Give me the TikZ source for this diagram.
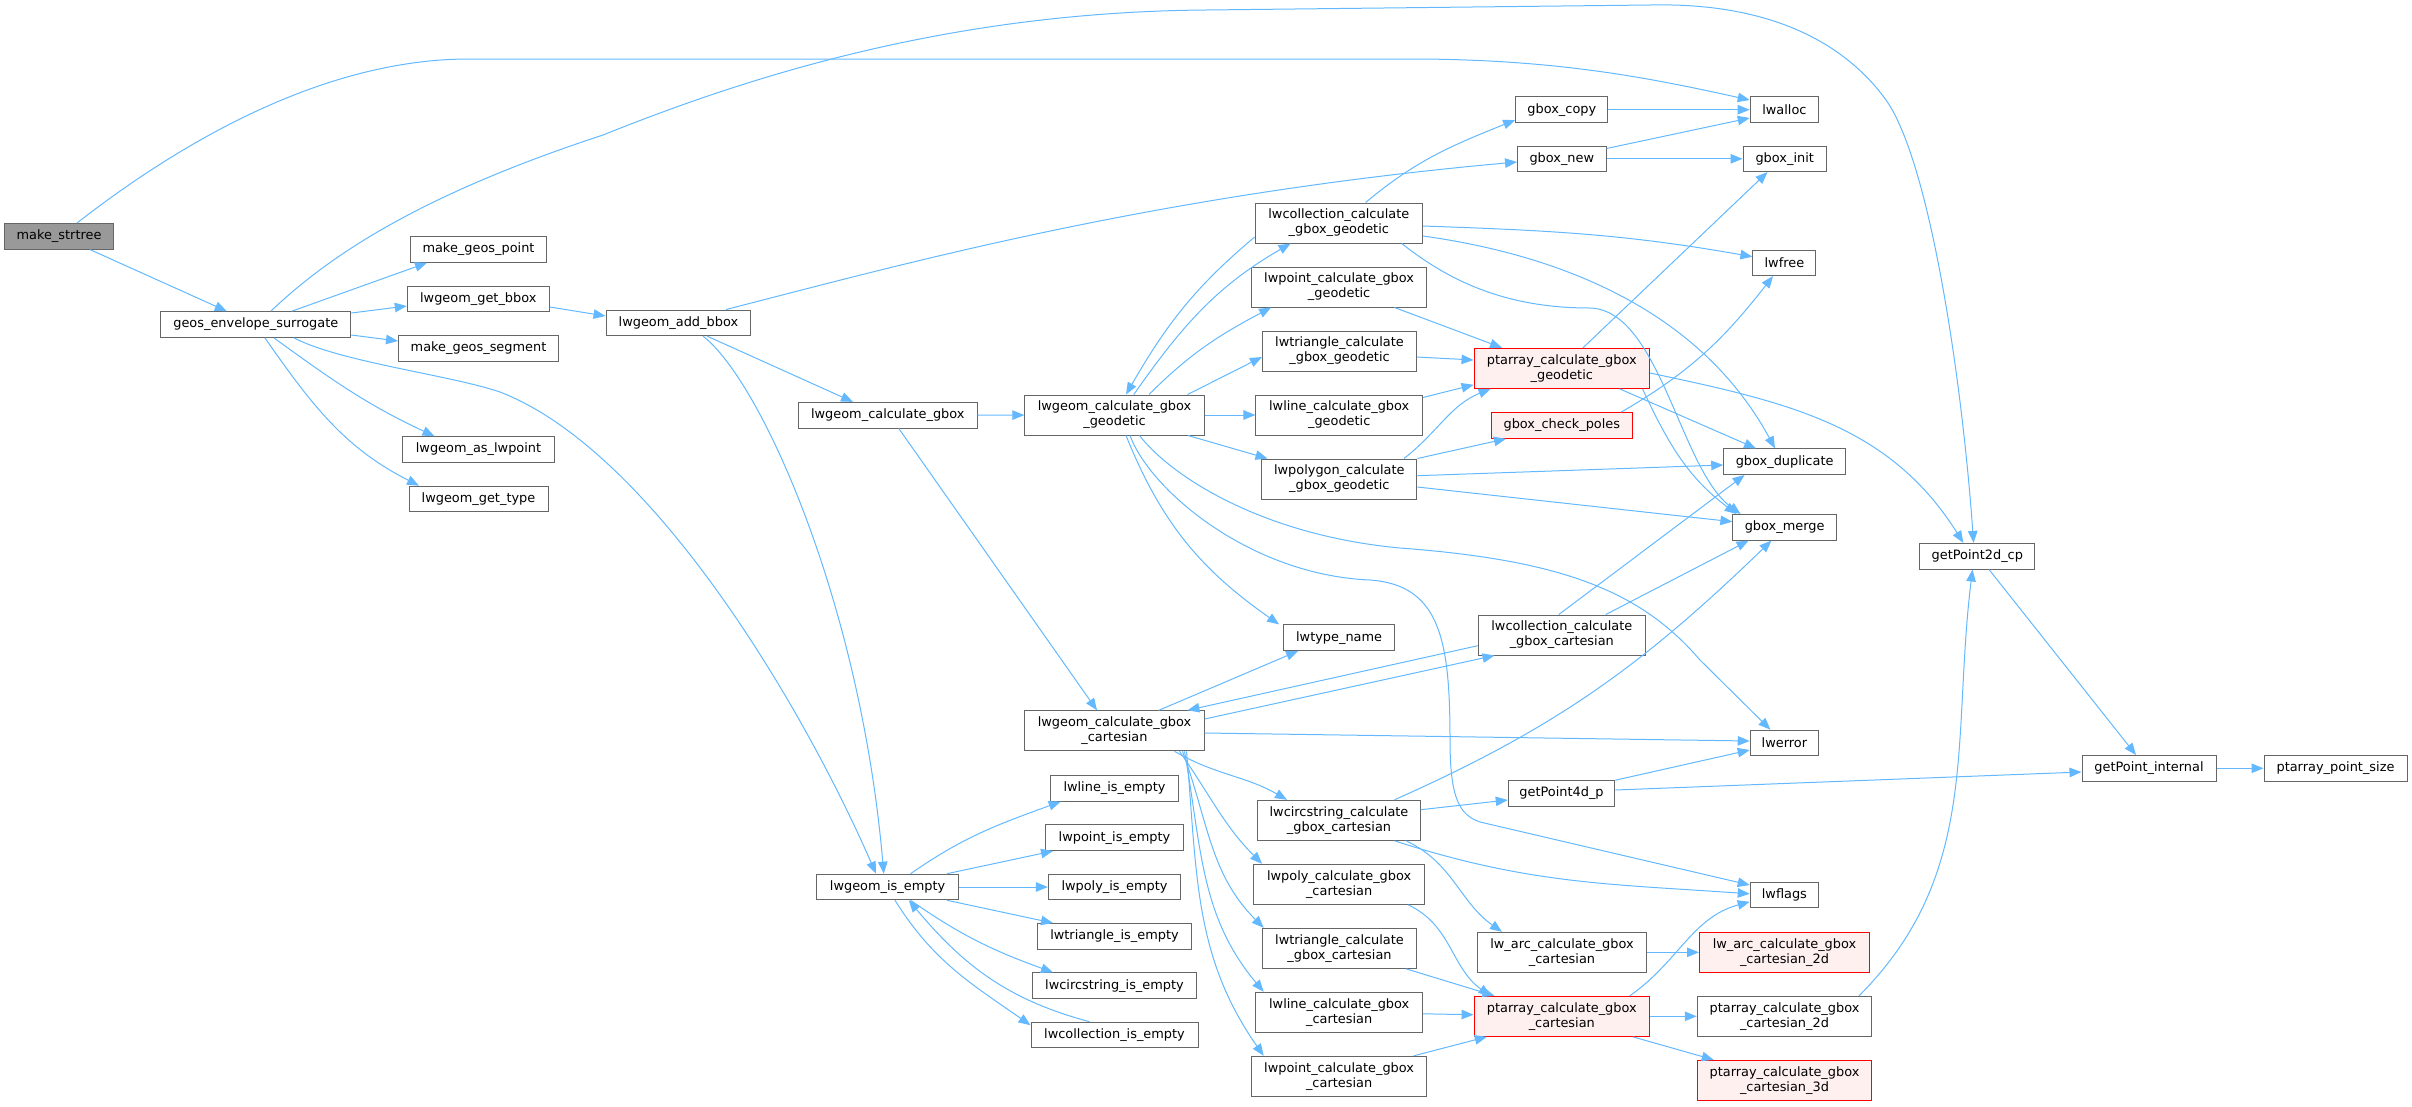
\documentclass[tikz,border=0pt]{standalone}
\usepackage{fontspec}
\setmainfont{DejaVu Sans}
\usetikzlibrary{arrows.meta}
\definecolor{edgeblue}{RGB}{99,184,255}
\definecolor{boxgrey}{RGB}{102,102,102}
\definecolor{rootgrey}{RGB}{153,153,153}
\definecolor{hotfill}{RGB}{255,240,240}
\tikzset{
  fn/.style={
    draw=boxgrey,
    fill=white,
    line width=1pt,
    rectangle,
    inner xsep=3pt,
    inner ysep=0pt,
    minimum height=25.6pt,
    align=center,
    font=\fontsize{12.9pt}{15pt}\selectfont
  },
  fn2/.style={fn, minimum height=40pt},
  root/.style={fn, fill=rootgrey},
  hot/.style={draw=red, fill=hotfill},
  call/.style={
    draw=edgeblue,
    line width=1pt,
    -{Triangle[length=12pt,width=9.5pt]}
  }
}
\begin{document}
\begin{tikzpicture}[x=1pt, y=1pt]
  \useasboundingbox (0,0) rectangle (2412,-1106);

  \node[root, minimum width=109pt] (strtree) at (59,-236.3) {make\_strtree};
  \node[fn, minimum width=190pt] (envsur) at (255.8,-324.5) {geos\_envelope\_surrogate};
  \node[fn, minimum width=136pt] (gpoint) at (478.5,-249.5) {make\_geos\_point};
  \node[fn, minimum width=142pt] (getbbox) at (478.3,-298.8) {lwgeom\_get\_bbox};
  \node[fn, minimum width=160pt] (gseg) at (478.5,-348.2) {make\_geos\_segment};
  \node[fn, minimum width=151.5pt] (aslwpt) at (478.5,-449.5) {lwgeom\_as\_lwpoint};
  \node[fn, minimum width=139pt] (gettype) at (478.5,-499) {lwgeom\_get\_type};
  \node[fn, minimum width=144.7pt] (addbbox) at (678.4,-322.8) {lwgeom\_add\_bbox};
  \node[fn, minimum width=178.8pt] (calcgbox) at (887.8,-415.2) {lwgeom\_calculate\_gbox};
  \node[fn, minimum width=141.6pt] (isempty) at (887.6,-887) {lwgeom\_is\_empty};
  \node[fn2, minimum width=179.3pt] (geod) at (1114.5,-415) {lwgeom\_calculate\_gbox\\\_geodetic};
  \node[fn2, minimum width=179.3pt] (cart) at (1114.5,-730.8) {lwgeom\_calculate\_gbox\\\_cartesian};

  \node[fn, minimum width=128.5pt] (lineempty) at (1114.5,-788.3) {lwline\_is\_empty};
  \node[fn, minimum width=137.7pt] (ptempty) at (1114.5,-837.7) {lwpoint\_is\_empty};
  \node[fn, minimum width=132.3pt] (polyempty) at (1114.5,-887) {lwpoly\_is\_empty};
  \node[fn, minimum width=154.6pt] (triempty) at (1114.5,-936.3) {lwtriangle\_is\_empty};
  \node[fn, minimum width=163.9pt] (circempty) at (1114.5,-985.7) {lwcircstring\_is\_empty};
  \node[fn, minimum width=167pt] (collempty) at (1114.5,-1035) {lwcollection\_is\_empty};

  \node[fn2, minimum width=167.3pt] (collgeod) at (1338.8,-223) {lwcollection\_calculate\\\_gbox\_geodetic};
  \node[fn2, minimum width=175.4pt] (ptgeod) at (1339.1,-287) {lwpoint\_calculate\_gbox\\\_geodetic};
  \node[fn2, minimum width=154pt] (trigeod) at (1339.5,-351) {lwtriangle\_calculate\\\_gbox\_geodetic};
  \node[fn2, minimum width=166.5pt] (linegeod) at (1339.2,-415) {lwline\_calculate\_gbox\\\_geodetic};
  \node[fn2, minimum width=155pt] (polygeod) at (1339.3,-479) {lwpolygon\_calculate\\\_gbox\_geodetic};
  \node[fn, minimum width=110.8pt] (typename) at (1339.1,-637.7) {lwtype\_name};
  \node[fn2, minimum width=162.3pt] (circcart) at (1339,-820.3) {lwcircstring\_calculate\\\_gbox\_cartesian};
  \node[fn2, minimum width=170.8pt] (polycart) at (1339.1,-884.3) {lwpoly\_calculate\_gbox\\\_cartesian};
  \node[fn2, minimum width=154pt] (tricart) at (1339.5,-948.3) {lwtriangle\_calculate\\\_gbox\_cartesian};
  \node[fn2, minimum width=166.5pt] (linecart) at (1339.2,-1012.3) {lwline\_calculate\_gbox\\\_cartesian};
  \node[fn2, minimum width=175.4pt] (ptcart) at (1339.1,-1076.3) {lwpoint\_calculate\_gbox\\\_cartesian};

  \node[fn, minimum width=92.3pt] (gcopy) at (1561.8,-109.7) {gbox\_copy};
  \node[fn, minimum width=88.5pt] (gnew) at (1561.8,-158.8) {gbox\_new};
  \node[fn2, hot, minimum width=175.5pt] (ptarrgeod) at (1561.8,-368.3) {ptarray\_calculate\_gbox\\\_geodetic};
  \node[fn, hot, minimum width=141.5pt] (poles) at (1561.8,-425.5) {gbox\_check\_poles};
  \node[fn2, minimum width=167pt] (collcart) at (1561.8,-635) {lwcollection\_calculate\\\_gbox\_cartesian};
  \node[fn, minimum width=106.5pt] (pt4d) at (1561.5,-793.5) {getPoint4d\_p};
  \node[fn2, minimum width=169.6pt] (arccart) at (1562,-952.3) {lw\_arc\_calculate\_gbox\\\_cartesian};
  \node[fn2, hot, minimum width=175.5pt] (ptarrcart) at (1561.8,-1016.3) {ptarray\_calculate\_gbox\\\_cartesian};

  \node[fn, minimum width=68.4pt] (lwalloc) at (1784.4,-109.7) {lwalloc};
  \node[fn, minimum width=83.3pt] (gboxinit) at (1784.7,-158.8) {gbox\_init};
  \node[fn, minimum width=63pt] (lwfree) at (1784.4,-262.8) {lwfree};
  \node[fn, minimum width=121.8pt] (gdup) at (1784.6,-461.7) {gbox\_duplicate};
  \node[fn, minimum width=103.4pt] (gmerge) at (1784.6,-527.3) {gbox\_merge};
  \node[fn, minimum width=68.4pt] (lwerror) at (1784.4,-743) {lwerror};
  \node[fn, minimum width=68.4pt] (lwflags) at (1784.4,-894.8) {lwflags};
  \node[fn2, hot, minimum width=170pt] (arc2d) at (1784.5,-952.3) {lw\_arc\_calculate\_gbox\\\_cartesian\_2d};
  \node[fn2, minimum width=174.5pt] (ptarr2d) at (1784.5,-1016.3) {ptarray\_calculate\_gbox\\\_cartesian\_2d};
  \node[fn2, hot, minimum width=174.5pt] (ptarr3d) at (1784.5,-1080.3) {ptarray\_calculate\_gbox\\\_cartesian\_3d};

  \node[fn, minimum width=115pt] (gp2d) at (1977.3,-556.2) {getPoint2d\_cp};
  \node[fn, minimum width=134pt] (gpint) at (2149,-768.3) {getPoint\_internal};
  \node[fn, minimum width=143pt] (ptsize) at (2335.5,-768.3) {ptarray\_point\_size};

  \draw[call] ([xshift=31pt]strtree.south) -- ([xshift=-29pt]envsur.north);
  \draw[call] ([xshift=18pt]strtree.north) .. controls (190,-135) and (330,-59) .. (469,-59)
    -- (1420,-59) .. controls (1560,-60) and (1650,-78) .. ([yshift=9.7pt]lwalloc.west);
  \draw[call] ([xshift=15pt]envsur.north) .. controls (330,-255) and (420,-195) .. (603,-135)
    .. controls (750,-76) and (950,-12) .. (1206,-10) -- (1650,-5)
    .. controls (1780,-2) and (1850,-50) .. (1886,-100)
    .. controls (1930,-162) and (1962,-380) .. ([xshift=-3.7pt]gp2d.north);
  \draw[call] ([xshift=36pt]envsur.north) -- ([xshift=-51.5pt]gpoint.south);
  \draw[call] ([yshift=11.5pt]envsur.east) -- ([yshift=-7.2pt]getbbox.west);
  \draw[call] ([yshift=-10.5pt]envsur.east) -- ([yshift=7.2pt]gseg.west);
  \draw[call] ([xshift=18pt]envsur.south) to[out=-36,in=155] ([xshift=-44pt]aslwpt.north);
  \draw[call] ([xshift=9pt]envsur.south) to[out=-55,in=153] ([xshift=-59.5pt]gettype.north);
  \draw[call] ([xshift=38pt]envsur.south) .. controls (340,-362) and (450,-375) .. (500,-392)
    .. controls (650,-450) and (800,-700) .. ([xshift=-11.6pt]isempty.north);
  \draw[call] ([yshift=-8.2pt]getbbox.east) -- ([yshift=6.8pt]addbbox.west);

  \draw[call] ([xshift=47.6pt]addbbox.north) .. controls (900,-265) and (1150,-195) .. ([yshift=-3.2pt]gnew.west);
  \draw[call] ([xshift=28.6pt]addbbox.south) -- ([xshift=-34.8pt]calcgbox.north);
  \draw[call] ([xshift=24.6pt]addbbox.south) .. controls (760,-380) and (860,-600) .. ([xshift=-3.8pt]isempty.north);
  \draw[call] (calcgbox) -- (geod);
  \draw[call] ([xshift=11pt]calcgbox.south) -- ([xshift=-17.5pt]cart.north);

  \draw[call] ([xshift=19.3pt]geod.north) to[out=55,in=-150] ([xshift=-48.2pt]collgeod.south);
  \draw[call] ([yshift=-14pt]collgeod.west) to[out=-140,in=60] ([xshift=11.5pt]geod.north);
  \draw[call] ([xshift=34.5pt]geod.north) to[out=45,in=-152] ([xshift=-68pt]ptgeod.south);
  \draw[call] ([xshift=73pt]geod.north) -- ([yshift=-6pt]trigeod.west);
  \draw[call] (geod) -- (linegeod);
  \draw[call] ([xshift=73.5pt]geod.south) -- ([xshift=-71.8pt]polygeod.north);
  \draw[call] ([xshift=11.5pt]geod.south) to[out=-68,in=145] ([xshift=-60pt]typename.north);
  \draw[call] ([xshift=15.5pt]geod.south) .. controls (1150,-490) and (1250,-575) .. (1370,-580)
    .. controls (1440,-585) and (1450,-640) .. (1450,-740)
    .. controls (1450,-800) and (1460,-815) .. (1480,-822) -- ([yshift=9.8pt]lwflags.west);
  \draw[call] ([xshift=25pt]geod.south) .. controls (1170,-475) and (1260,-535) .. (1400,-548)
    .. controls (1560,-560) and (1640,-590) .. (1700,-660) -- ([xshift=-14pt]lwerror.north);

  \draw[call] ([xshift=26.8pt]collgeod.north) to[out=40,in=-158] ([yshift=-10.3pt]gcopy.west);
  \draw[call] ([yshift=-3pt]collgeod.east) to[out=-2,in=170] ([yshift=6.1pt]lwfree.west);
  \draw[call] ([yshift=-13pt]collgeod.east) .. controls (1560,-255) and (1700,-310) .. ([xshift=-9.6pt]gdup.north);
  \draw[call] ([xshift=63pt]collgeod.south) .. controls (1460,-290) and (1520,-308) .. (1590,-308)
    .. controls (1660,-310) and (1680,-470) .. ([xshift=-44pt]gmerge.north);
  \draw[call] ([xshift=55.4pt]ptgeod.south) -- ([xshift=-59.8pt]ptarrgeod.north);
  \draw[call] ([yshift=-6pt]trigeod.east) -- ([yshift=8.3pt]ptarrgeod.west);
  \draw[call] ([yshift=-3pt]linegeod.north east) -- ([yshift=4pt]ptarrgeod.south west);
  \draw[call] ([xshift=64.7pt]polygeod.north) to[out=38,in=-158] ([xshift=-71.2pt]ptarrgeod.south);
  \draw[call] (polygeod.north east) -- ([xshift=-55.8pt]poles.south);
  \draw[call] ([yshift=3.3pt]polygeod.east) -- ([yshift=-3.3pt]gdup.west);
  \draw[call] ([yshift=-8pt]polygeod.east) -- ([yshift=5.6pt]gmerge.west);

  \draw[call] ([xshift=21.2pt]ptarrgeod.north) -- ([xshift=-17.2pt]gboxinit.south);
  \draw[call] ([xshift=57.7pt]ptarrgeod.south) -- ([xshift=-28.6pt]gdup.north);
  \draw[call] ([xshift=80.7pt]ptarrgeod.south) to[out=-65,in=143] ([xshift=-48pt]gmerge.north);
  \draw[call] ([yshift=-4.7pt]ptarrgeod.east) to[out=-12,in=122] ([xshift=-14pt]gp2d.north);
  \draw[call] ([xshift=59.2pt]poles.north) to[out=30,in=-128] ([xshift=-11.4pt]lwfree.south);
  \draw[call] (gcopy) -- (lwalloc);
  \draw[call] ([yshift=-3pt]gnew.north east) -- ([yshift=-8.3pt]lwalloc.west);
  \draw[call] (gnew) -- (gboxinit);

  \draw[call] ([xshift=44.3pt]cart.north) -- ([xshift=-41pt]typename.south);
  \draw[call] ([yshift=11.8pt]cart.east) -- ([xshift=-67.3pt]collcart.south);
  \draw[call] ([yshift=-10.7pt]collcart.west) -- ([xshift=73pt]cart.north);
  \draw[call] ([yshift=-2.2pt]cart.east) -- ([yshift=2pt]lwerror.west);
  \draw[call] ([xshift=60pt]cart.south) to[out=-30,in=150] ([xshift=-52pt]circcart.north);
  \draw[call] ([xshift=65pt]cart.south) to[out=-55,in=135] ([xshift=-77pt]polycart.north);
  \draw[call] ([xshift=68pt]cart.south) to[out=-70,in=135] ([xshift=-75.8pt]tricart.north);
  \draw[call] ([xshift=70pt]cart.south) to[out=-80,in=130] ([xshift=-75.5pt]linecart.north);
  \draw[call] ([xshift=72pt]cart.south) to[out=-85,in=125] ([xshift=-75.4pt]ptcart.north);
  \draw[call] ([xshift=-3pt]collcart.north) -- ([xshift=-40pt]gdup.south);
  \draw[call] ([xshift=44pt]collcart.north) -- ([xshift=-36pt]gmerge.south);

  \draw[call] ([yshift=10.6pt]circcart.east) -- ([yshift=-6.5pt]pt4d.west);
  \draw[call] ([xshift=55.5pt]circcart.north) to[out=24,in=-136] ([xshift=-13.2pt]gmerge.south);
  \draw[call] ([xshift=55.5pt]circcart.south) to[out=-18,in=176] ([yshift=1pt]lwflags.west);
  \draw[call] ([xshift=67pt]circcart.south) to[out=-25,in=145] ([xshift=-60pt]arccart.north);
  \draw[call] ([xshift=69pt]polycart.south) to[out=-25,in=145] ([xshift=-71.2pt]ptarrcart.north);
  \draw[call] ([xshift=66.5pt]tricart.south) -- ([xshift=-67.3pt]ptarrcart.north);
  \draw[call] (linecart) -- (ptarrcart);
  \draw[call] ([xshift=74.6pt]ptcart.north) -- ([xshift=-75pt]ptarrcart.south);
  \draw[call] (arccart) -- (arc2d);
  \draw[call] ([xshift=68pt]ptarrcart.north) to[out=35,in=-165] ([yshift=-7pt]lwflags.west);
  \draw[call] (ptarrcart) -- (ptarr2d);
  \draw[call] ([xshift=71pt]ptarrcart.south) -- ([xshift=-70.8pt]ptarr3d.north);
  \draw[call] ([xshift=74.5pt]ptarr2d.north) to[out=45,in=-97] ([xshift=-4.8pt]gp2d.south);
  \draw[call] ([xshift=11.7pt]gp2d.south) -- ([xshift=-13pt]gpint.north);
  \draw[call] (gpint) -- (ptsize);
  \draw[call] ([yshift=3.5pt]pt4d.east) -- ([yshift=-3.7pt]gpint.west);
  \draw[call] (pt4d.north east) -- ([yshift=-7pt]lwerror.west);

  \draw[call] ([xshift=23pt]isempty.north) to[out=35,in=-160] ([xshift=-53.8pt]lineempty.south);
  \draw[call] ([xshift=59.4pt]isempty.north) -- ([xshift=-61.5pt]ptempty.south);
  \draw[call] (isempty) -- (polyempty);
  \draw[call] ([xshift=59.4pt]isempty.south) -- ([xshift=-61.5pt]triempty.north);
  \draw[call] ([xshift=23pt]isempty.south) to[out=-35,in=160] ([xshift=-61.5pt]circempty.north);
  \draw[call] ([xshift=7.4pt]isempty.south) to[out=-58,in=145] ([yshift=9.8pt]collempty.west);
  \draw[call] ([xshift=-25pt]collempty.north) to[out=165,in=-50] ([xshift=21.2pt]isempty.south);
\end{tikzpicture}
\end{document}
